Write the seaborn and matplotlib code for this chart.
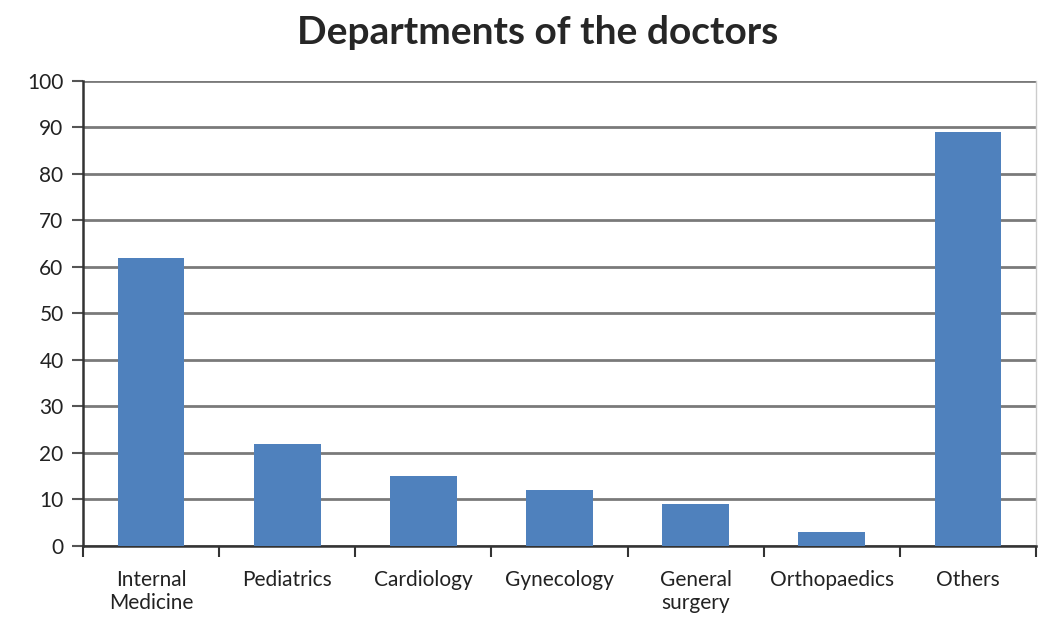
import matplotlib
matplotlib.use("Agg")
import matplotlib.pyplot as plt
import seaborn as sns
import pandas as pd
import numpy as np

# Values
departments = ["Internal\nMedicine", "Pediatrics", "Cardiology", "Gynecology",
               "General\nsurgery", "Orthopaedics", "Others"]
counts = [62, 22, 15, 12, 9, 3, 89]
y_ticks = list(range(0, 101, 10))

df = pd.DataFrame({"department": departments, "count": counts})

sns.set_style("white")
plt.rcParams["font.family"] = ["Lato", "DejaVu Sans"]

fig = plt.figure(figsize=(10.48, 6.2), dpi=100)
ax = fig.add_axes([0.0792, 0.1194, 0.9093, 0.75])

sns.barplot(data=df, x="department", y="count", color="#4F81BD",
            saturation=1, width=0.49, linewidth=0, ax=ax, zorder=3)

ax.set_ylim(0, 100)
ax.set_xlim(-0.5, len(departments) - 0.5)
ax.set_yticks(y_ticks)
ax.set_yticklabels([str(t) for t in y_ticks])
ax.yaxis.grid(True, color="#7a7a7a", linewidth=2, zorder=0)
ax.set_axisbelow(True)

# category labels at centres, tick marks at category boundaries
ax.set_xticks(np.arange(len(departments)), minor=True)
ax.set_xticklabels(departments, minor=True, linespacing=1.8)
ax.set_xticks(np.arange(-0.5, len(departments), 1))
ax.set_xticklabels([])
ax.tick_params(axis="x", which="minor", length=0, pad=17,
               labelsize=15, labelcolor="#222222")
ax.tick_params(axis="x", which="major", direction="out", length=8,
               width=1.5, color="#333333", bottom=True)
ax.tick_params(axis="y", direction="out", length=8, width=1.5,
               color="#555555", left=True, pad=6, labelsize=15,
               labelcolor="#222222")

ax.spines["top"].set_visible(False)
ax.spines["left"].set_color("#333333")
ax.spines["left"].set_linewidth(1.8)
ax.spines["bottom"].set_color("#333333")
ax.spines["bottom"].set_linewidth(1.8)
ax.spines["right"].set_color("#cccccc")
ax.spines["right"].set_linewidth(1)

ax.set_xlabel("")
ax.set_ylabel("")
fig.suptitle("Departments of the doctors", fontsize=28, fontweight="bold",
             x=0.513, y=0.975)

fig.savefig("out.png", dpi=100)
